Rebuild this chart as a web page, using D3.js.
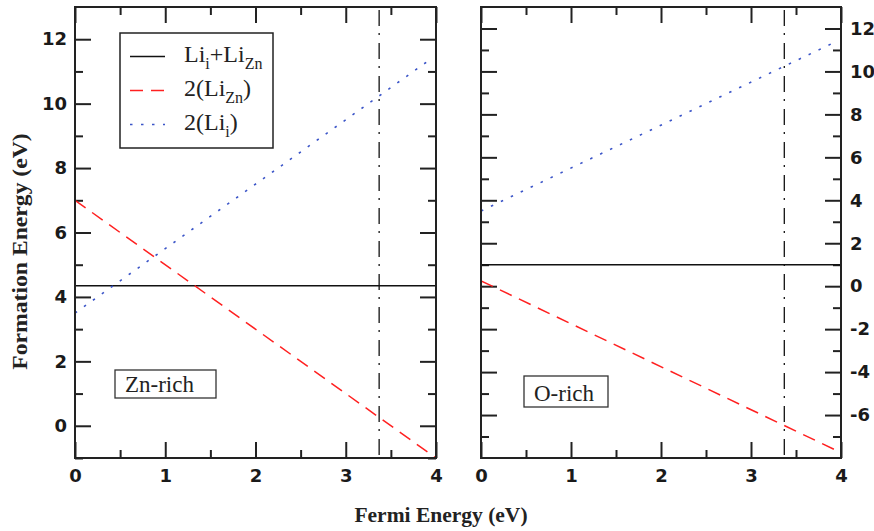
<!DOCTYPE html>
<html>
<head>
<meta charset="utf-8">
<script src="https://cdn.jsdelivr.net/npm/d3@7"></script>
<style>
  body { margin: 0; background: #fff; }
  svg { display: block; }
  .serif { font-family: "Liberation Serif", "Times New Roman", serif; }
  .tick text { font-family: "DejaVu Sans", sans-serif; font-weight: bold; font-size: 18px; fill: #1a1a1a; }
</style>
</head>
<body>
<svg id="chart" width="874" height="531"></svg>
<script>
// Fermi level positions (eV) for the straight-line segments
const fermi = [0, 4];
const fermiDot = [0, 3.93];
const gapEnergy = 3.37;

// Zn-rich panel
const pairZnRich = [4.35, 4.35];      // Li_i + Li_Zn
const liZnZnRich = [7.0, -1.0];       // 2(Li_Zn)
const liIZnRich = [3.5, 11.36];       // 2(Li_i)

// O-rich panel
const pairORich = [1.0, 1.0];
const liZnORich = [0.25, -7.75];
const liIORich = [3.5, 11.36];

const xMajor = [0, 1, 2, 3, 4];
const xMinor = [0.5, 1.5, 2.5, 3.5];
const leftMajor = [0, 2, 4, 6, 8, 10, 12];
const leftMinor = [-1, 1, 3, 5, 7, 9, 11];
const rightMajor = [-6, -4, -2, 0, 2, 4, 6, 8, 10, 12];
const rightMinor = [-7, -5, -3, -1, 1, 3, 5, 7, 9, 11];

const panels = [
  { name: "Zn-rich", x0: 75, x1: 436, yDomain: [-1, 13], pair: pairZnRich, liZn: liZnZnRich, liI: liIZnRich,
    major: leftMajor, minor: leftMinor, labelSide: "left", box: [115, 370, 101, 28] },
  { name: "O-rich", x0: 481, x1: 841, yDomain: [-8, 13], pair: pairORich, liZn: liZnORich, liI: liIORich,
    major: rightMajor, minor: rightMinor, labelSide: "right", box: [524, 376, 84, 31] }
];

const plotTop = 7, plotBottom = 458;
const svg = d3.select("#chart");

const RED = "#ff2020", BLUE = "#3b55c8";
const plain = d => String(d); // hyphen-minus like the original plot

panels.forEach((p, i) => {
  const x = d3.scaleLinear().domain([0, 4]).range([p.x0, p.x1]);
  const y = d3.scaleLinear().domain(p.yDomain).range([plotBottom, plotTop]);
  const g = svg.append("g");

  const clipId = "clip" + i;
  svg.append("clipPath").attr("id", clipId)
    .append("rect").attr("x", p.x0).attr("y", plotTop).attr("width", p.x1 - p.x0).attr("height", plotBottom - plotTop);

  // axes: ticks inward on all four sides
  const addAxis = (axis, tx, ty) => {
    const a = g.append("g").attr("transform", `translate(${tx},${ty})`).call(axis);
    a.select(".domain").remove();
    a.selectAll(".tick line").attr("stroke", "#222").attr("stroke-width", 2);
    return a;
  };
  addAxis(d3.axisBottom(x).tickValues(xMajor).tickSize(-16).tickPadding(11).tickFormat(plain), 0, plotBottom);
  addAxis(d3.axisBottom(x).tickValues(xMinor).tickSize(-8).tickFormat(""), 0, plotBottom);
  addAxis(d3.axisTop(x).tickValues(xMajor).tickSize(-16).tickFormat(""), 0, plotTop);
  addAxis(d3.axisTop(x).tickValues(xMinor).tickSize(-8).tickFormat(""), 0, plotTop);

  const fmt = p.labelSide === "left" ? plain : "";
  const fmtR = p.labelSide === "right" ? plain : "";
  addAxis(d3.axisLeft(y).tickValues(p.major).tickSize(-16).tickPadding(8).tickFormat(fmt), p.x0, 0);
  addAxis(d3.axisLeft(y).tickValues(p.minor).tickSize(-8).tickFormat(""), p.x0, 0);
  addAxis(d3.axisRight(y).tickValues(p.major).tickSize(-16).tickPadding(9).tickFormat(fmtR), p.x1, 0);
  addAxis(d3.axisRight(y).tickValues(p.minor).tickSize(-8).tickFormat(""), p.x1, 0);

  const plot = g.append("g").attr("clip-path", `url(#${clipId})`);
  const line = d3.line().x(d => x(d[0])).y(d => y(d[1]));

  plot.append("path").datum(d3.zip(fermi, p.pair)).attr("d", line)
    .attr("fill", "none").attr("stroke", "#111").attr("stroke-width", 1.5);
  plot.append("path").datum(d3.zip(fermi, p.liZn)).attr("d", line)
    .attr("fill", "none").attr("stroke", RED).attr("stroke-width", 1.5).attr("stroke-dasharray", "13,8");
  plot.append("path").datum(d3.zip(fermiDot, p.liI)).attr("d", line)
    .attr("fill", "none").attr("stroke", BLUE).attr("stroke-width", 1.6).attr("stroke-dasharray", "2.5,8.5");
  // band gap marker
  plot.append("line")
    .attr("x1", x(gapEnergy)).attr("x2", x(gapEnergy)).attr("y1", plotTop + 3).attr("y2", plotBottom)
    .attr("stroke", "#111").attr("stroke-width", 1.3).attr("stroke-dasharray", "16,7,2,8");

  // frame
  g.append("rect").attr("x", p.x0).attr("y", plotTop).attr("width", p.x1 - p.x0).attr("height", plotBottom - plotTop)
    .attr("fill", "none").attr("stroke", "#222").attr("stroke-width", 2);

  // condition label box
  const [bx, by, bw, bh] = p.box;
  g.append("rect").attr("x", bx).attr("y", by).attr("width", bw).attr("height", bh)
    .attr("fill", "#fff").attr("stroke", "#333").attr("stroke-width", 1.3);
  g.append("text").attr("class", "serif").attr("x", bx + 10).attr("y", by + bh - 6)
    .attr("font-size", 23).attr("fill", "#222").text(p.name);
});

// legend (left panel)
const legend = svg.append("g");
legend.append("rect").attr("x", 120).attr("y", 33).attr("width", 153).attr("height", 115)
  .attr("fill", "#fff").attr("stroke", "#222").attr("stroke-width", 1.5);
const legendItems = [
  { parts: [["Li", 0], ["i", 1], ["+Li", 0], ["Zn", 1]], color: "#111", dash: null, width: 1.5 },
  { parts: [["2(Li", 0], ["Zn", 1], [")", 0]], color: RED, dash: "13,8", width: 1.5 },
  { parts: [["2(Li", 0], ["i", 1], [")", 0]], color: BLUE, dash: "2.5,8.5", width: 1.6 }
];
legendItems.forEach((it, k) => {
  const base = 62 + k * 34;
  legend.append("line").attr("x1", 130).attr("x2", 165).attr("y1", base - 5.5).attr("y2", base - 5.5)
    .attr("stroke", it.color).attr("stroke-width", it.width).attr("stroke-dasharray", it.dash);
  const t = legend.append("text").attr("class", "serif").attr("x", 184).attr("y", base)
    .attr("font-size", 24).attr("fill", "#222");
  let shifted = 0;
  it.parts.forEach(([s, sub]) => {
    const dy = sub ? 7 - shifted : -shifted;
    shifted = sub ? 7 : 0;
    t.append("tspan").attr("dy", dy).attr("font-size", sub ? 16 : 24).text(s);
  });
});

// axis titles
svg.append("text").attr("class", "serif")
  .attr("transform", "translate(27,251.5) rotate(-90) scale(1.1,1)")
  .attr("text-anchor", "middle").attr("font-size", 21.5).attr("font-weight", "bold").attr("fill", "#222")
  .text("Formation Energy (eV)");
svg.append("text").attr("class", "serif")
  .attr("x", 441).attr("y", 522)
  .attr("text-anchor", "middle").attr("font-size", 21.5).attr("font-weight", "bold").attr("fill", "#222")
  .text("Fermi Energy (eV)");
</script>
</body>
</html>
